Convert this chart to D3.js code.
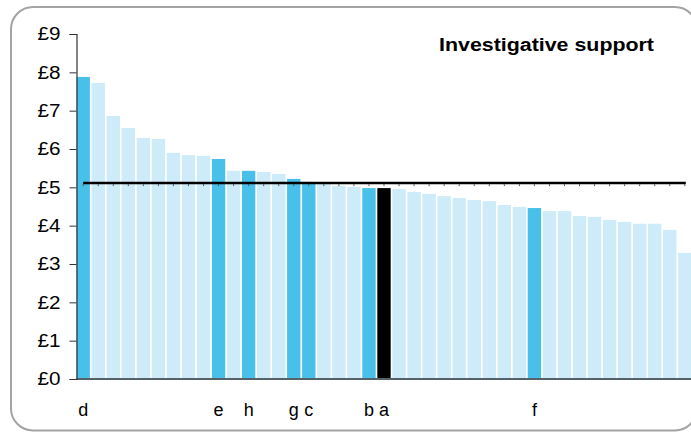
<!DOCTYPE html>
<html>
<head>
<meta charset="utf-8">
<script src="https://cdn.jsdelivr.net/npm/d3@7"></script>
<style>
  html, body { margin: 0; padding: 0; background: #fff; }
  svg { display: block; }
  text { font-family: "Liberation Sans", Arial, sans-serif; }
</style>
</head>
<body>
<svg id="chart" width="691" height="432"></svg>
<script>
// ---- data ----
const categories = d3.range(41);
const values = [7.88, 7.72, 6.86, 6.55, 6.29, 6.26, 5.90, 5.84, 5.82, 5.74,
                5.43, 5.43, 5.40, 5.35, 5.22, 5.14, 5.11, 5.04, 5.01, 4.98,
                4.98, 4.96, 4.88, 4.83, 4.77, 4.72, 4.67, 4.64, 4.54, 4.49,
                4.46, 4.38, 4.38, 4.25, 4.23, 4.15, 4.10, 4.05, 4.05, 3.89, 3.29];
const labels = ["d","","","","","","","","","e",
                "","h","","","g","c","","","","b",
                "a","","","","","","","","","",
                "f","","","","","","","","","",""];
const highlight = ["hi","","","","","","","","","hi",
                   "","hi","","","hi","hi","","","","hi",
                   "self","","","","","","","","","",
                   "hi","","","","","","","","","",""];
const averageValue = 5.11;
const yTicks = [0,1,2,3,4,5,6,7,8,9];
const title = "Investigative support";

// ---- layout ----
const svg = d3.select("#chart");
const plotLeft = 76.5, plotRight = 691.5, plotTop = 34, plotBottom = 379;

svg.append("rect")
  .attr("x", 11).attr("y", 7).attr("width", 686).attr("height", 423.5)
  .attr("rx", 22).attr("ry", 22)
  .attr("fill", "#fff").attr("stroke", "#a3a3a3").attr("stroke-width", 2);

const x = d3.scaleBand().domain(categories).range([plotLeft, plotRight])
  .paddingInner(0.11).paddingOuter(0);
const y = d3.scaleLinear().domain([0, 9]).range([plotBottom, plotTop]);

const colorOf = i => highlight[i] === "hi" ? "#48c0ea" : (highlight[i] === "self" ? "#000000" : "#cdebf8");

svg.append("g").selectAll("rect").data(categories).join("rect")
  .attr("x", i => x(i))
  .attr("y", i => y(values[i]))
  .attr("width", x.bandwidth())
  .attr("height", i => y(0) - y(values[i]))
  .attr("fill", i => colorOf(i));

// x baseline
svg.append("line")
  .attr("x1", plotLeft).attr("x2", plotRight).attr("y1", y(0)).attr("y2", y(0))
  .attr("stroke", "#56626a").attr("stroke-width", 2);

// y axis
const yAxis = d3.axisLeft(y).tickValues(yTicks).tickSize(7).tickPadding(9)
  .tickFormat(d => "£" + d);
const gy = svg.append("g").attr("transform", `translate(${plotLeft},0)`).call(yAxis);
gy.select(".domain").attr("stroke", "#333").attr("stroke-width", 1.2);
gy.selectAll(".tick line").attr("stroke", "#333");
gy.selectAll(".tick text")
  .attr("fill", "#000")
  .style("font-size", "18px")
  .attr("textLength", 23).attr("lengthAdjust", "spacingAndGlyphs");

// average line
const cx = i => x(i) + x.bandwidth() / 2;
svg.append("line")
  .attr("x1", cx(0)).attr("x2", cx(40) + 1)
  .attr("y1", y(averageValue)).attr("y2", y(averageValue))
  .attr("stroke", "#000").attr("stroke-width", 2.5);
svg.append("g").selectAll("line").data(categories).join("line")
  .attr("x1", i => cx(i)).attr("x2", i => cx(i))
  .attr("y1", y(averageValue) + 1).attr("y2", y(averageValue) + 3)
  .attr("stroke", "#555").attr("stroke-width", 1);

// category labels
svg.append("g").selectAll("text").data(categories.filter(i => labels[i] !== "")).join("text")
  .attr("x", i => cx(i))
  .attr("y", 416)
  .attr("text-anchor", "middle")
  .style("font-size", "18px")
  .attr("fill", "#000")
  .text(i => labels[i]);

// title
svg.append("text")
  .attr("x", 439).attr("y", 51)
  .style("font-size", "18px").style("font-weight", "bold")
  .attr("textLength", 215).attr("lengthAdjust", "spacingAndGlyphs")
  .attr("fill", "#000")
  .text(title);
</script>
</body>
</html>
